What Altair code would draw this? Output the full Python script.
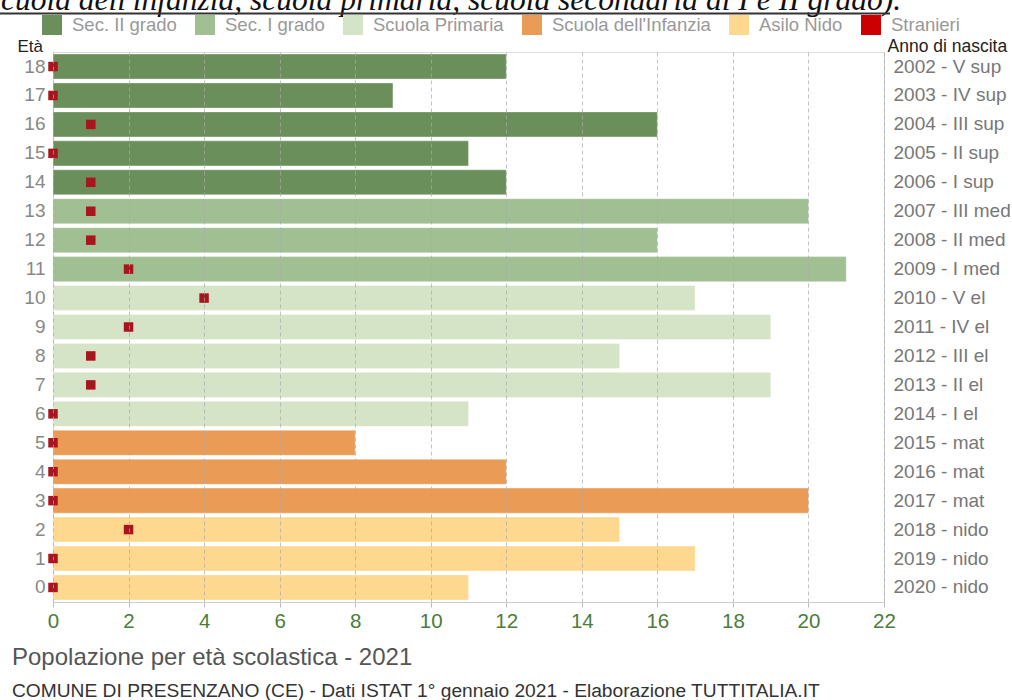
import altair as alt
import pandas as pd

# ---- data ----
ages = [str(a) for a in range(19)]  # 0..18
counts = [11, 17, 15, 20, 12, 8, 11, 19, 15, 19, 17, 21, 16, 20, 12, 11, 16, 9, 12]
stranieri = [0, 0, 2, 0, 0, 0, 0, 1, 1, 2, 4, 2, 1, 1, 1, 0, 1, 0, 0]
birth_labels = ["2020 - nido", "2019 - nido", "2018 - nido", "2017 - mat", "2016 - mat",
                "2015 - mat", "2014 - I el", "2013 - II el", "2012 - III el", "2011 - IV el",
                "2010 - V el", "2009 - I med", "2008 - II med", "2007 - III med", "2006 - I sup",
                "2005 - II sup", "2004 - III sup", "2003 - IV sup", "2002 - V sup"]
levels = (["Asilo Nido"] * 3 + ["Scuola dell'Infanzia"] * 3 + ["Scuola Primaria"] * 5
          + ["Sec. I grado"] * 3 + ["Sec. II grado"] * 5)
legend_order = ["Sec. II grado", "Sec. I grado", "Scuola Primaria",
                "Scuola dell'Infanzia", "Asilo Nido", "Stranieri"]
legend_colors = ["#6b8f5b", "#a0bf93", "#d5e3c7", "#ea9b56", "#fed88f", "#cc0000"]
x_ticks = list(range(0, 23, 2))

top_title = "cuola dell'infanzia, scuola primaria, scuola secondaria di I e II grado)."
chart_title = "Popolazione per età scolastica - 2021"
footer = "COMUNE DI PRESENZANO (CE) - Dati ISTAT 1° gennaio 2021 - Elaborazione TUTTITALIA.IT"

df = pd.DataFrame({"eta": ages, "n": counts, "str": stranieri,
                   "anno": birth_labels, "livello": levels})

FONT = "Liberation Sans"
age_sort = ages[::-1]
year_sort = birth_labels[::-1]
yscale = alt.Scale(type="band", paddingInner=0.135, paddingOuter=0.07)

xenc = alt.X("n:Q", scale=alt.Scale(domain=[0, 22], nice=False),
             axis=alt.Axis(values=x_ticks, grid=True, gridColor="#aaa", gridDash=[4, 3],
                           gridOpacity=0.7, domainColor="#ccc", tickColor="#bbb", tickSize=5,
                           labelColor="#4b7d3b", labelFontSize=20.5, labelFont=FONT,
                           labelPadding=4, labelFlush=False, labelOverlap=False,
                           title=None, zindex=1))

bars = alt.Chart(df).mark_bar(stroke="white", strokeOpacity=0.35, strokeWidth=1).encode(
    x=xenc,
    y=alt.Y("eta:N", sort=age_sort, scale=yscale,
            axis=alt.Axis(orient="left", domain=False, ticks=False, grid=False,
                          labelColor="#888", labelFontSize=19, labelFont=FONT, labelPadding=8,
                          title="Età", titleAngle=0, titleX=-36, titleY=-6, titleAlign="left",
                          titleBaseline="middle", titleFontSize=17, titleFontWeight="normal",
                          titleColor="#222", titleFont=FONT)),
    color=alt.Color("livello:N", scale=alt.Scale(domain=legend_order, range=legend_colors),
                    legend=alt.Legend(orient="none", direction="horizontal", legendX=-11,
                                      legendY=-37, title=None, symbolType="square",
                                      symbolSize=400, symbolStrokeWidth=0, symbolOpacity=1,
                                      labelFontSize=18.5, labelColor="#999", labelFont=FONT,
                                      labelOffset=10, columnPadding=18, padding=0,
                                      labelLimit=0)),
)

squares = alt.Chart(df).mark_square(size=90, color="#a8151e", opacity=1).encode(
    x=alt.X("str:Q"),
    y=alt.Y("anno:N", sort=year_sort, scale=yscale,
            axis=alt.Axis(orient="right", domain=True, domainColor="#ccc", ticks=False,
                          grid=False, labelColor="#777", labelFontSize=19, labelFont=FONT,
                          labelPadding=9, title="Anno di nascita", titleAngle=0, titleX=3,
                          titleY=-6, titleAlign="left", titleBaseline="middle",
                          titleFontSize=17.5, titleFontWeight="normal", titleColor="#222",
                          titleFont=FONT)),
)

t_top = alt.Chart(pd.DataFrame({"t": [top_title]})).mark_text(
    font="Liberation Serif", fontStyle="italic", fontSize=31.5, align="left",
    baseline="alphabetic", color="#111").encode(
    x=alt.value(-52), y=alt.value(-42), text="t:N")
underline = alt.Chart(pd.DataFrame({"t": [top_title]})).mark_rule(
    color="#333", strokeWidth=1.8).encode(
    x=alt.value(-53), x2=alt.value(837), y=alt.value(-38.5))
t_title = alt.Chart(pd.DataFrame({"t": [chart_title]})).mark_text(
    font=FONT, fontSize=24, align="left", baseline="middle", color="#555").encode(
    x=alt.value(-41), y=alt.value(606), text="t:N")
t_footer = alt.Chart(pd.DataFrame({"t": [footer]})).mark_text(
    font=FONT, fontSize=19.2, align="left", baseline="middle", color="#333").encode(
    x=alt.value(-41), y=alt.value(639), text="t:N")

chart = alt.layer(bars, squares, t_top, underline, t_title, t_footer).resolve_scale(
    y="independent"
).properties(
    width=831, height=550,
    autosize=alt.AutoSizeParams(type="none"),
    padding={"left": 53, "top": 52, "right": 128, "bottom": 98},
    background="white",
).configure_view(stroke=None).configure(font=FONT)

chart.save("out.html", embed_options={"renderer": "svg", "actions": False})
